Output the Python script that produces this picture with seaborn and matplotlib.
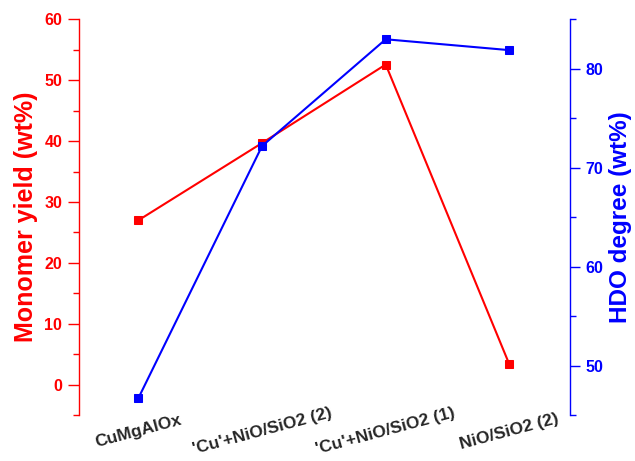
import matplotlib
matplotlib.use("Agg")
import matplotlib.pyplot as plt
import seaborn as sns
import pandas as pd
from matplotlib.ticker import MultipleLocator

categories = ["CuMgAlOx", "'Cu'+NiO/SiO2 (2)", "'Cu'+NiO/SiO2 (1)", "NiO/SiO2 (2)"]
monomer_yield = [27.0, 39.7, 52.6, 3.3]
hdo_degree = [46.7, 72.2, 83.0, 81.9]

sns.set_style("white")
plt.rcParams['font.family'] = ['Liberation Sans', 'DejaVu Sans']
plt.rcParams['font.weight'] = 'bold'

df = pd.DataFrame({"cat": categories, "pos": range(len(categories)),
                   "yield": monomer_yield, "hdo": hdo_degree})

fig = plt.figure(figsize=(6.35, 4.61), dpi=100)
ax = fig.add_axes([79/635, 1-415/461, (570-79)/635, (415-19.5)/461])
ax2 = ax.twinx()

red = "#ff0000"
blue = "#0000ff"

sns.lineplot(data=df, x="pos", y="yield", ax=ax, color=red, marker="s",
             markersize=6, markeredgecolor=red, linewidth=1.5)
sns.lineplot(data=df, x="pos", y="hdo", ax=ax2, color=blue, marker="s",
             markersize=6, markeredgecolor=blue, linewidth=1.5)

ax.set_xlim(-0.48, 3.49)
ax.set_ylim(-5, 60)
ax2.set_ylim(45, 85)

ax.yaxis.set_major_locator(MultipleLocator(10))
ax.yaxis.set_minor_locator(MultipleLocator(5))
ax2.yaxis.set_major_locator(MultipleLocator(10))
ax2.yaxis.set_minor_locator(MultipleLocator(5))

for a in (ax, ax2):
    for s in ("top", "bottom"):
        a.spines[s].set_visible(False)
ax.spines["right"].set_visible(False)
ax2.spines["left"].set_visible(False)
ax.spines["left"].set_color(red)
ax.spines["left"].set_linewidth(1.0)
ax2.spines["right"].set_color(blue)
ax2.spines["right"].set_linewidth(1.0)

ax.tick_params(axis="y", which="major", direction="out", length=8, width=1,
               color=red, labelcolor=red, labelsize=11.5, pad=4, left=True)
ax.tick_params(axis="y", which="minor", direction="out", length=4, width=1,
               color=red, left=True)
ax2.tick_params(axis="y", which="major", direction="out", length=7, width=1,
                color=blue, labelcolor=blue, labelsize=11.5, pad=4, right=True)
ax2.tick_params(axis="y", which="minor", direction="out", length=4, width=1,
                color=blue, right=True)
for lab in ax.get_yticklabels() + ax2.get_yticklabels():
    lab.set_fontweight("bold")

ax.set_xticks(df["pos"])
ax.set_xticklabels(categories, rotation=15, fontsize=12.5, fontweight="bold",
                   rotation_mode="anchor", ha="center", va="center")
ax.tick_params(axis="x", length=0, pad=12)

ax.set_xlabel("")
ax2.set_xlabel("")
ax.set_ylabel("Monomer yield (wt%)", color=red, fontsize=18,
              fontweight="bold", labelpad=5)
ax2.set_ylabel("HDO degree (wt%)", color=blue, fontsize=17.5,
               fontweight="bold", labelpad=4)
ax.grid(False)
ax2.grid(False)

fig.savefig("out.png", dpi=100)
